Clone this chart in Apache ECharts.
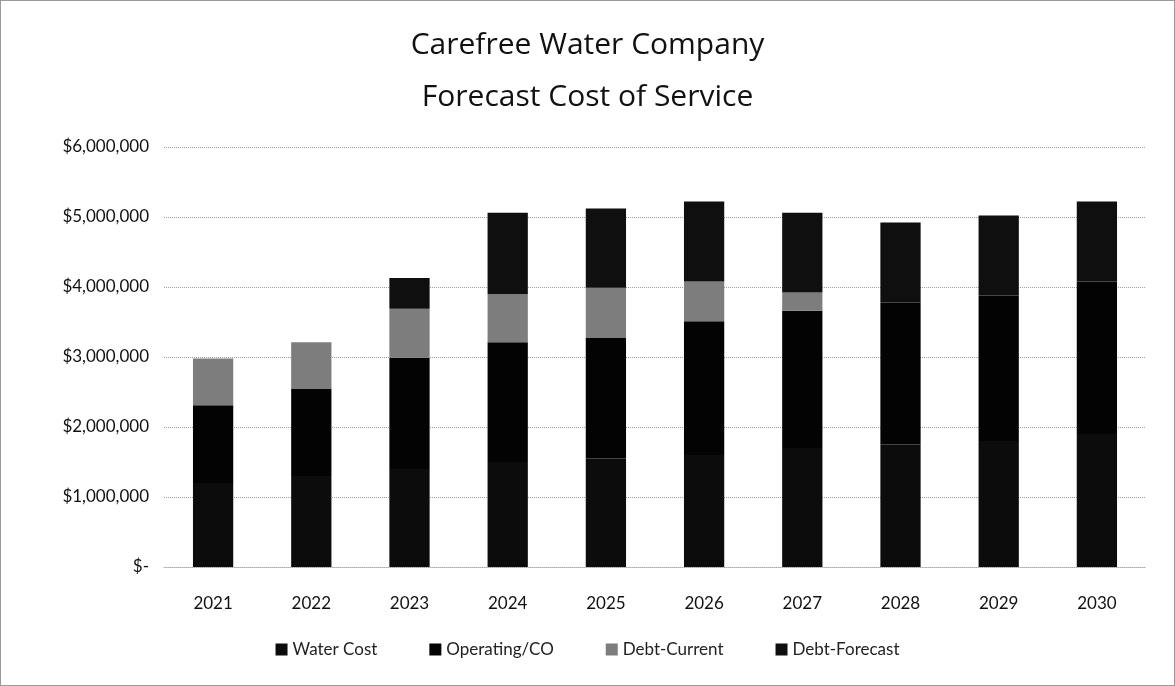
<!DOCTYPE html>
<html>
<head>
<meta charset="utf-8">
<script src="https://cdn.jsdelivr.net/npm/echarts@6/dist/echarts.min.js"></script>
<style>
  html, body { margin: 0; padding: 0; background: #fff; }
  #chart {
    width: 1173px;
    height: 684px;
    border: 1px solid #9a9a9a;
  }
</style>
</head>
<body>
<div id="chart"></div>
<script>
// years on the x axis
var years = ["2021", "2022", "2023", "2024", "2025", "2026", "2027", "2028", "2029", "2030"];

// stacked series (dollars)
var waterCost    = [1200000, 1300000, 1400000, 1500000, 1550000, 1600000, 1700000, 1750000, 1800000, 1900000];
var operatingCO  = [1110000, 1250000, 1590000, 1710000, 1730000, 1910000, 1960000, 2030000, 2080000, 2180000];
var debtCurrent  = [670000, 660000, 700000, 690000, 710000, 570000, 260000, 0, 0, 0];
var debtForecast = [0, 0, 440000, 1160000, 1130000, 1140000, 1140000, 1140000, 1140000, 1140000];

var font = "Lato, 'Open Sans', sans-serif";

function money(v) {
  if (v === 0) return "$-";
  return "$" + v.toLocaleString("en-US");
}

var chartDom = document.getElementById("chart");
var myChart = echarts.init(chartDom);

var option = {
  animation: false,
  title: {
    text: "Carefree Water Company\nForecast Cost of Service",
    left: "center",
    top: 13,
    textStyle: {
      fontFamily: "'Open Sans', sans-serif",
      fontWeight: "normal",
      fontSize: 30,
      lineHeight: 52,
      color: "#111",
    },
  },
  legend: {
    bottom: 22,
    left: "center",
    itemWidth: 12,
    itemHeight: 12,
    itemGap: 52,
    icon: "rect",
    textStyle: { fontFamily: font, fontSize: 17, color: "#222" },
    data: ["Water Cost", "Operating/CO", "Debt-Current", "Debt-Forecast"],
  },
  grid: {
    left: 163,
    right: 28,
    top: 146,
    bottom: 118,
  },
  xAxis: {
    type: "category",
    data: years,
    axisTick: { show: false },
    axisLine: { lineStyle: { color: "#aaa", type: "dotted" } },
    axisLabel: { fontFamily: font, fontSize: 17, color: "#111", margin: 28 },
  },
  yAxis: {
    type: "value",
    min: 0,
    max: 6000000,
    interval: 1000000,
    axisLine: { show: false },
    axisTick: { show: false },
    splitLine: { lineStyle: { color: "#9d9d9d", type: "dotted" } },
    axisLabel: {
      fontFamily: font,
      fontSize: 17,
      color: "#111",
      margin: 15,
      formatter: money,
    },
  },
  series: [
    {
      name: "Water Cost",
      type: "bar",
      stack: "total",
      barWidth: "41%",
      itemStyle: { color: "#0c0c0c" },
      data: waterCost,
    },
    {
      name: "Operating/CO",
      type: "bar",
      stack: "total",
      itemStyle: { color: "#030303" },
      data: operatingCO,
    },
    {
      name: "Debt-Current",
      type: "bar",
      stack: "total",
      itemStyle: { color: "#7d7d7d" },
      data: debtCurrent,
    },
    {
      name: "Debt-Forecast",
      type: "bar",
      stack: "total",
      itemStyle: { color: "#0f0f0f" },
      data: debtForecast,
    },
  ],
};

myChart.setOption(option);
</script>
</body>
</html>
